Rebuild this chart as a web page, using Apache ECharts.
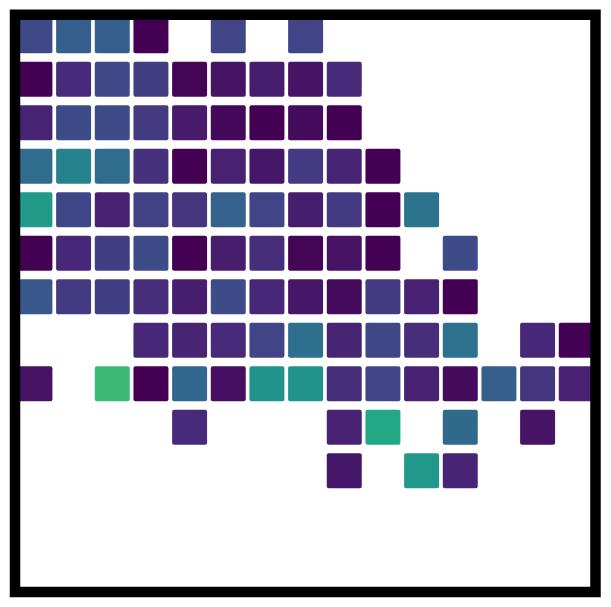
<!DOCTYPE html>
<html>
<head>
<meta charset="utf-8">
<script src="https://cdn.jsdelivr.net/npm/echarts@6/dist/echarts.min.js"></script>
<style>
  html, body { margin: 0; padding: 0; background: #fff; }
  #heat { width: 611px; height: 607px; }
</style>
</head>
<body>
<div id="heat"></div>
<script>
// column / row categories
var cols = ["c1", "c2", "c3", "c4", "c5", "c6", "c7", "c8", "c9", "c10", "c11", "c12", "c13", "c14", "c15"];
var rows = ["r1", "r2", "r3", "r4", "r5", "r6", "r7", "r8", "r9", "r10", "r11", "r12", "r13"];

// cell values per row (null = empty cell), 0..1 on viridis scale
var row1 = [0.22, 0.30, 0.30, 0.00, null, 0.20, null, 0.20];
var row2 = [0.00, 0.12, 0.22, 0.18, 0.01, 0.05, 0.08, 0.05, 0.12];
var row3 = [0.10, 0.23, 0.23, 0.17, 0.07, 0.02, 0.00, 0.03, 0.00];
var row4 = [0.35, 0.44, 0.35, 0.14, 0.00, 0.09, 0.06, 0.17, 0.10, 0.00];
var row5 = [0.54, 0.21, 0.09, 0.19, 0.15, 0.31, 0.20, 0.08, 0.17, 0.00, 0.38];
var row6 = [0.00, 0.11, 0.18, 0.23, 0.00, 0.08, 0.13, 0.01, 0.05, 0.00, null, 0.23];
var row7 = [0.27, 0.17, 0.18, 0.13, 0.08, 0.23, 0.11, 0.06, 0.03, 0.17, 0.09, 0.00];
var row8 = [null, null, null, 0.11, 0.10, 0.12, 0.20, 0.36, 0.10, 0.21, 0.13, 0.37, null, 0.11, 0.00];
var row9 = [0.05, null, 0.68, 0.00, 0.33, 0.04, 0.51, 0.51, 0.13, 0.20, 0.09, 0.03, 0.30, 0.15, 0.09];
var row10 = [null, null, null, null, 0.12, null, null, null, 0.09, 0.60, null, 0.34, null, 0.05];
var row11 = [null, null, null, null, null, null, null, null, 0.06, null, 0.53, 0.10];
var row12 = [];
var row13 = [];

var viridis = ["#440154", "#482475", "#414487", "#355f8d", "#2a788e", "#21918c",
  "#22a884", "#44bf70", "#7ad151", "#bddf26", "#fde725"];

var allRows = [row1, row2, row3, row4, row5, row6, row7, row8, row9, row10, row11, row12, row13];
var data = [];
allRows.forEach(function (r, y) {
  r.forEach(function (v, x) {
    if (v !== null) data.push([x, y, v]);
  });
});

var chart = echarts.init(document.getElementById("heat"));
var option = {
  animation: false,
  grid: { left: 15.6, top: 14, width: 580, height: 565.5 },
  xAxis: { type: "category", data: cols, show: false },
  yAxis: { type: "category", data: rows, inverse: true, show: false },
  visualMap: {
    show: false,
    min: 0,
    max: 1,
    dimension: 2,
    inRange: { color: viridis }
  },
  series: [{
    type: "custom",
    clip: true,
    data: data,
    encode: { x: 0, y: 1 },
    renderItem: function (params, api) {
      var c = api.coord([api.value(0), api.value(1)]);
      var s = api.size([1, 1]);
      var w = s[0] - 3.7, h = s[1] - 8.5;
      return {
        type: "rect",
        shape: { x: c[0] - w / 2, y: c[1] - h / 2, width: w, height: h, r: 2 },
        style: { fill: api.visual("color") }
      };
    }
  }],
  graphic: [{
    type: "rect",
    z: 100,
    shape: { x: 15, y: 14.75, width: 580.5, height: 577.25 },
    style: { fill: null, stroke: "#000", lineWidth: 10.5 }
  }]
};
chart.setOption(option);
</script>
</body>
</html>
